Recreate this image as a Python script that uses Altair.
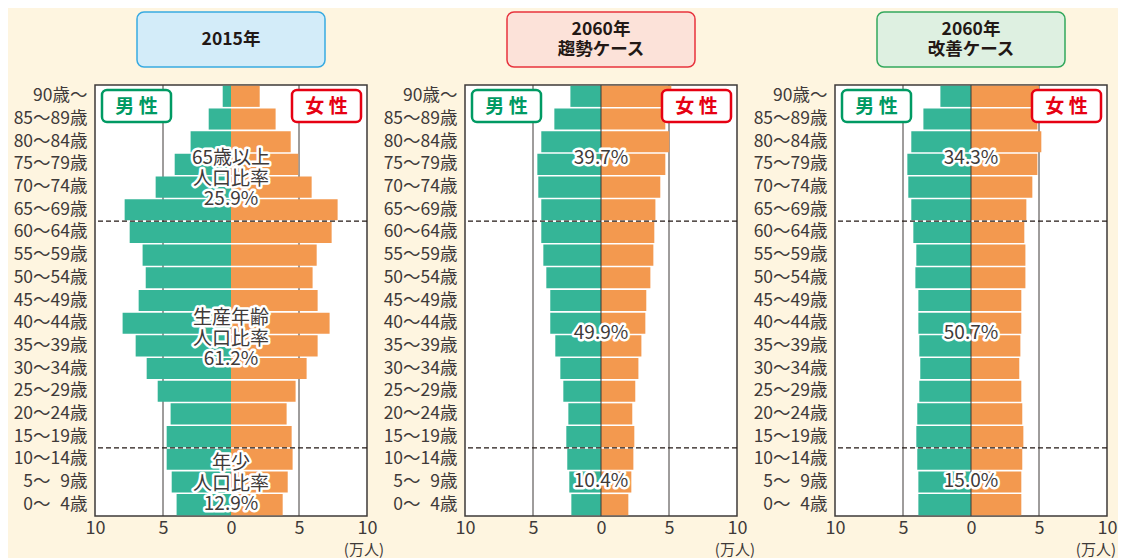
import altair as alt
import pandas as pd

# ---------------- data ----------------
ages = ["90歳～", "85～89歳", "80～84歳", "75～79歳", "70～74歳", "65～69歳",
        "60～64歳", "55～59歳", "50～54歳", "45～49歳", "40～44歳", "35～39歳",
        "30～34歳", "25～29歳", "20～24歳", "15～19歳", "10～14歳",
        "5～\u20079歳", "0～\u20074歳"]

male_2015 = [0.61, 1.64, 2.97, 4.14, 5.54, 7.82, 7.45, 6.50, 6.27, 6.79,
             7.97, 7.01, 6.20, 5.39, 4.44, 4.73, 4.73, 4.36, 4.00]
female_2015 = [2.11, 3.28, 4.39, 4.95, 5.93, 7.84, 7.40, 6.30, 6.00, 6.37,
               7.25, 6.37, 5.56, 4.75, 4.09, 4.46, 4.53, 4.17, 3.80]

male_trend = [2.25, 3.43, 4.39, 4.68, 4.61, 4.39, 4.39, 4.24, 4.02, 3.73,
              3.73, 3.36, 2.99, 2.77, 2.40, 2.55, 2.48, 2.33, 2.18]
female_trend = [5.17, 4.73, 5.02, 4.73, 4.36, 4.00, 3.92, 3.85, 3.63, 3.33,
                3.26, 2.97, 2.75, 2.52, 2.30, 2.45, 2.38, 2.23, 2.01]

male_improve = [2.25, 3.50, 4.39, 4.68, 4.61, 4.39, 4.24, 4.02, 4.09, 3.87,
                3.87, 3.80, 3.73, 3.80, 3.95, 4.02, 3.95, 3.87, 3.87]
female_improve = [5.00, 4.88, 5.17, 4.88, 4.51, 4.07, 3.92, 4.00, 4.00, 3.70,
                  3.70, 3.63, 3.55, 3.70, 3.77, 3.85, 3.77, 3.70, 3.70]

sexes = ["男性", "女性"]
x_ticks = [-10, -5, 0, 5, 10]
boundaries = ["60～64歳", "10～14歳"]

headers = [["2015年"], ["2060年", "趨勢ケース"], ["2060年", "改善ケース"]]
notes_2015 = [("65歳以上\n人口比率\n25.9%", 73), ("生産年齢\n人口比率\n61.2%", 233),
              ("年少\n人口比率\n12.9%", 378)]
notes_trend = [("39.7%", 73), ("49.9%", 248), ("10.4%", 396)]
notes_improve = [("34.3%", 73), ("50.7%", 248), ("15.0%", 396)]

# ---------------- style ----------------
W, H = 272, 431
TXT = "#3E3A39"
FONT = "Noto Sans CJK JP"
MALE_C = "#35B597"
FEMALE_C = "#F3994F"
BG = "#FEF5E0"

xscale = alt.Scale(domain=[-10, 10], nice=False, zero=False)
yscale = alt.Scale(domain=ages, paddingInner=0.07, paddingOuter=0.035)
xaxis = alt.Axis(values=x_ticks, labelExpr="abs(datum.value)",
                 ticks=False, domain=False, grid=False,
                 labelFlush=False, labelOverlap=False,
                 labelFontSize=18, labelColor=TXT, labelFont=FONT,
                 labelPadding=3, title=None)
yaxis = alt.Axis(ticks=False, domain=False, grid=False, labelFontSize=17.5,
                 labelColor=TXT, labelFont=FONT, labelPadding=8, title=None)
one = pd.DataFrame({"value": [0]})


def panel(male, female, header_lines, hfill, hstroke, notes, center_line, unit_dx):
    df = pd.DataFrame({
        "age": ages * 2,
        "sex": ["男性"] * len(ages) + ["女性"] * len(ages),
        "value": [-v for v in male] + list(female),
    })
    X = alt.X("value:Q", scale=xscale, axis=xaxis)
    Y = alt.Y("age:N", scale=yscale, axis=yaxis)
    layers = []
    grid = alt.Chart(pd.DataFrame({"value": [-5, 5]})).mark_rule(
        color=TXT, strokeWidth=1).encode(x=X)
    layers.append(grid)

    bars = alt.Chart(df).mark_bar().encode(
        x=X, y=Y,
        color=alt.Color("sex:N", scale=alt.Scale(domain=sexes, range=[MALE_C, FEMALE_C]),
                        legend=None),
    )
    layers.append(bars)

    if center_line:
        layers.append(alt.Chart(one).mark_rule(color=TXT, strokeWidth=1).encode(x=X))

    dash = alt.Chart(pd.DataFrame({"age": boundaries})).mark_rule(
        color="#231815", strokeDash=[5, 3], strokeWidth=1.3, yOffset=-0.8).encode(
        y=alt.Y("age:N", scale=yscale, axis=yaxis, bandPosition=0))
    layers.append(dash)

    for text, yv in notes:
        for halo in (True, False):
            kw = dict(text=text, lineBreak="\n", fontSize=19, font=FONT,
                      lineHeight=20.5, align="center", baseline="middle")
            if halo:
                kw.update(color="white", stroke="white", strokeWidth=5, strokeJoin="round")
            else:
                kw.update(color=TXT)
            layers.append(alt.Chart(one).mark_text(**kw).encode(x=X, y=alt.value(yv)))

    # legend boxes
    for x1, x2, lab, col in [(7, 76, "男 性", "#009A63"), (197, 266, "女 性", "#E60012")]:
        layers.append(alt.Chart(one).mark_rect(
            fill="white", stroke=col, strokeWidth=2.5, cornerRadius=5).encode(
            x=alt.value(x1), x2=alt.value(x2), y=alt.value(5), y2=alt.value(37)))
        layers.append(alt.Chart(one).mark_text(
            text=lab, font=FONT, fontSize=19, fontWeight="bold", color=col,
            align="center", baseline="middle").encode(
            x=alt.value((x1 + x2) / 2), y=alt.value(21.5)))

    # header box
    layers.append(alt.Chart(one).mark_rect(
        fill=hfill, stroke=hstroke, strokeWidth=1.5, cornerRadius=7).encode(
        x=alt.value(42), x2=alt.value(230), y=alt.value(-73), y2=alt.value(-18)))
    first_y = -45.5 - (len(header_lines) - 1) * 10
    layers.append(alt.Chart(one).mark_text(
        text="\n".join(header_lines), lineBreak="\n", font=FONT, fontSize=17.5,
        fontWeight="bold", color="#231815", lineHeight=20, align="center",
        baseline="middle").encode(x=alt.value(136), y=alt.value(first_y)))

    # unit
    layers.append(alt.Chart(one).mark_text(
        text="(万人)", font=FONT, fontSize=15, color=TXT, align="right",
        baseline="middle").encode(x=alt.value(W + unit_dx), y=alt.value(H + 34)))

    return alt.layer(*layers).properties(width=W, height=H)


p1 = panel(male_2015, female_2015, headers[0], "#D3ECF9", "#38AAE1", notes_2015, False, 17)
p2 = panel(male_trend, female_trend, headers[1], "#FCE2D9", "#E7333D", notes_trend, True, 18)
p3 = panel(male_improve, female_improve, headers[2], "#DEF0E1", "#33A85C", notes_improve, True, 9)

chart = alt.hconcat(p1, p2, p3, spacing=98, bounds="flush").properties(
    padding={"left": 4, "top": 2, "right": 0, "bottom": 0},
    background=BG,
).configure_view(stroke=TXT, strokeWidth=1.5, fill="white")

chart.save("out.html", embed_options={"renderer": "svg", "actions": False})
